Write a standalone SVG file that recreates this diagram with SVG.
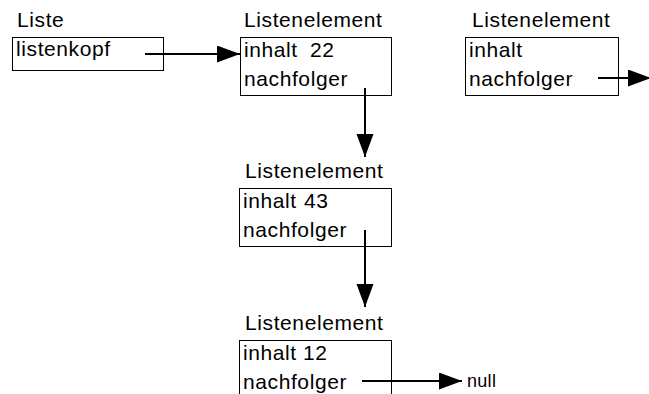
<svg xmlns="http://www.w3.org/2000/svg" width="649" height="394" viewBox="0 0 649 394">
<style>
text{font-family:"Liberation Sans",Arial,sans-serif;font-size:21px;letter-spacing:0.6px;fill:#000}
.box{fill:#fff;stroke:#000;stroke-width:1}
.con{stroke:#000;stroke-width:2;fill:none;marker-end:url(#ah)}
.small{font-size:18px;letter-spacing:0.3px}
</style>
<defs>
<marker id="ah" markerUnits="userSpaceOnUse" markerWidth="24" markerHeight="18" refX="23" refY="8.5" orient="auto" viewBox="0 0 24 18">
<path d="M0,0 L23,8.5 L0,17 z" fill="#000"/>
</marker>
</defs>
<g id="liste">
<text x="17" y="27">Liste</text>
<rect class="box" x="12.5" y="37.5" width="151" height="33"/>
<text x="16" y="56">listenkopf</text>
</g>
<g id="element1">
<text x="244" y="27">Listenelement</text>
<rect class="box" x="240.5" y="37.5" width="151" height="58"/>
<text x="244" y="57">inhalt</text>
<text x="310" y="57">22</text>
<text x="244" y="86">nachfolger</text>
</g>
<g id="element3">
<text x="472" y="27">Listenelement</text>
<rect class="box" x="465.5" y="37.5" width="153" height="58"/>
<text x="469" y="57">inhalt</text>
<text x="469" y="86">nachfolger</text>
</g>
<g id="element2">
<text x="245" y="178">Listenelement</text>
<rect class="box" x="239.5" y="188.5" width="152" height="58"/>
<text x="243" y="208">inhalt</text>
<text x="304" y="208">43</text>
<text x="243" y="237">nachfolger</text>
</g>
<g id="element4">
<text x="245" y="330">Listenelement</text>
<rect class="box" x="239.5" y="340.5" width="152" height="70"/>
<text x="243" y="360">inhalt</text>
<text x="303" y="360">12</text>
<text x="243" y="389">nachfolger</text>
</g>
<g id="null">
<text class="small" x="467" y="387">null</text>
</g>
<g id="connectors">
<line class="con" x1="145" y1="54" x2="240" y2="54"/>
<line class="con" x1="365" y1="88" x2="365" y2="157"/>
<line class="con" x1="365" y1="230" x2="365" y2="307"/>
<line class="con" x1="598" y1="78" x2="651" y2="78"/>
<line class="con" x1="362" y1="381" x2="462" y2="381"/>
</g>
</svg>
